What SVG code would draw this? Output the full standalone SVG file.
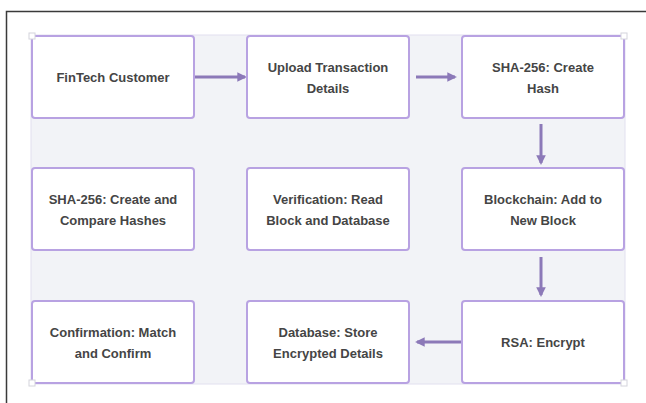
<svg xmlns="http://www.w3.org/2000/svg" width="646" height="403" viewBox="0 0 646 403">
  <defs>
    <style>
      .node rect { fill: #ffffff; stroke: #b8a2e2; stroke-width: 2; }
      .node text { font-family: "Liberation Sans", Arial, sans-serif; font-size: 13px; font-weight: bold; fill: #454545; text-anchor: middle; }
      .edge { stroke: #8c79b8; stroke-width: 3; fill: none; marker-end: url(#head); }
      .handle { fill: #ffffff; stroke: #d4d4dc; stroke-width: 1; }
    </style>
    <marker id="head" viewBox="0 0 10 10" refX="8" refY="5" markerWidth="3.2" markerHeight="3.2" orient="auto" markerUnits="strokeWidth">
      <path d="M0,0 L10,5 L0,10 z" fill="#8c79b8"/>
    </marker>
  </defs>

  <rect width="646" height="403" fill="#ffffff"/>
  <!-- outer window frame -->
  <path d="M6.5,403 V11.5 H646" fill="none" stroke="#3a3a3a" stroke-width="1.5"/>

  <!-- selection area -->
  <rect x="31" y="35" width="594" height="349" fill="#f2f3f7" stroke="#e2e0ef" stroke-width="1"/>

  <g id="connectors">
    <line class="edge" x1="195" y1="77" x2="245" y2="77"/>
    <line class="edge" x1="416" y1="77" x2="455" y2="77"/>
    <line class="edge" x1="541" y1="124" x2="541" y2="163"/>
    <line class="edge" x1="541" y1="257" x2="541" y2="295"/>
    <line class="edge" x1="461" y1="342" x2="417" y2="342"/>
  </g>

  <g id="n1" class="node">
    <rect x="32" y="36" width="162" height="82" rx="3"/>
    <text x="113" y="82">FinTech Customer</text>
  </g>
  <g id="n2" class="node">
    <rect x="247" y="36" width="162" height="82" rx="3"/>
    <text x="328" y="72">Upload Transaction</text>
    <text x="328" y="93">Details</text>
  </g>
  <g id="n3" class="node">
    <rect x="462" y="36" width="162" height="82" rx="3"/>
    <text x="543" y="72">SHA-256: Create</text>
    <text x="543" y="93">Hash</text>
  </g>
  <g id="n4" class="node">
    <rect x="32" y="168" width="162" height="82" rx="3"/>
    <text x="113" y="204">SHA-256: Create and</text>
    <text x="113" y="225">Compare Hashes</text>
  </g>
  <g id="n5" class="node">
    <rect x="247" y="168" width="162" height="82" rx="3"/>
    <text x="328" y="204">Verification: Read</text>
    <text x="328" y="225">Block and Database</text>
  </g>
  <g id="n6" class="node">
    <rect x="462" y="168" width="162" height="82" rx="3"/>
    <text x="543" y="204">Blockchain: Add to</text>
    <text x="543" y="225">New Block</text>
  </g>
  <g id="n7" class="node">
    <rect x="32" y="301" width="162" height="82" rx="3"/>
    <text x="113" y="337">Confirmation: Match</text>
    <text x="113" y="358">and Confirm</text>
  </g>
  <g id="n8" class="node">
    <rect x="247" y="301" width="162" height="82" rx="3"/>
    <text x="328" y="337">Database: Store</text>
    <text x="328" y="358">Encrypted Details</text>
  </g>
  <g id="n9" class="node">
    <rect x="462" y="301" width="162" height="82" rx="3"/>
    <text x="543" y="347">RSA: Encrypt</text>
  </g>

  <!-- corner handles -->
  <rect class="handle" x="29" y="33" width="6" height="6"/>
  <rect class="handle" x="621" y="33" width="6" height="6"/>
  <rect class="handle" x="29" y="380" width="6" height="6"/>
  <rect class="handle" x="621" y="380" width="6" height="6"/>
</svg>
